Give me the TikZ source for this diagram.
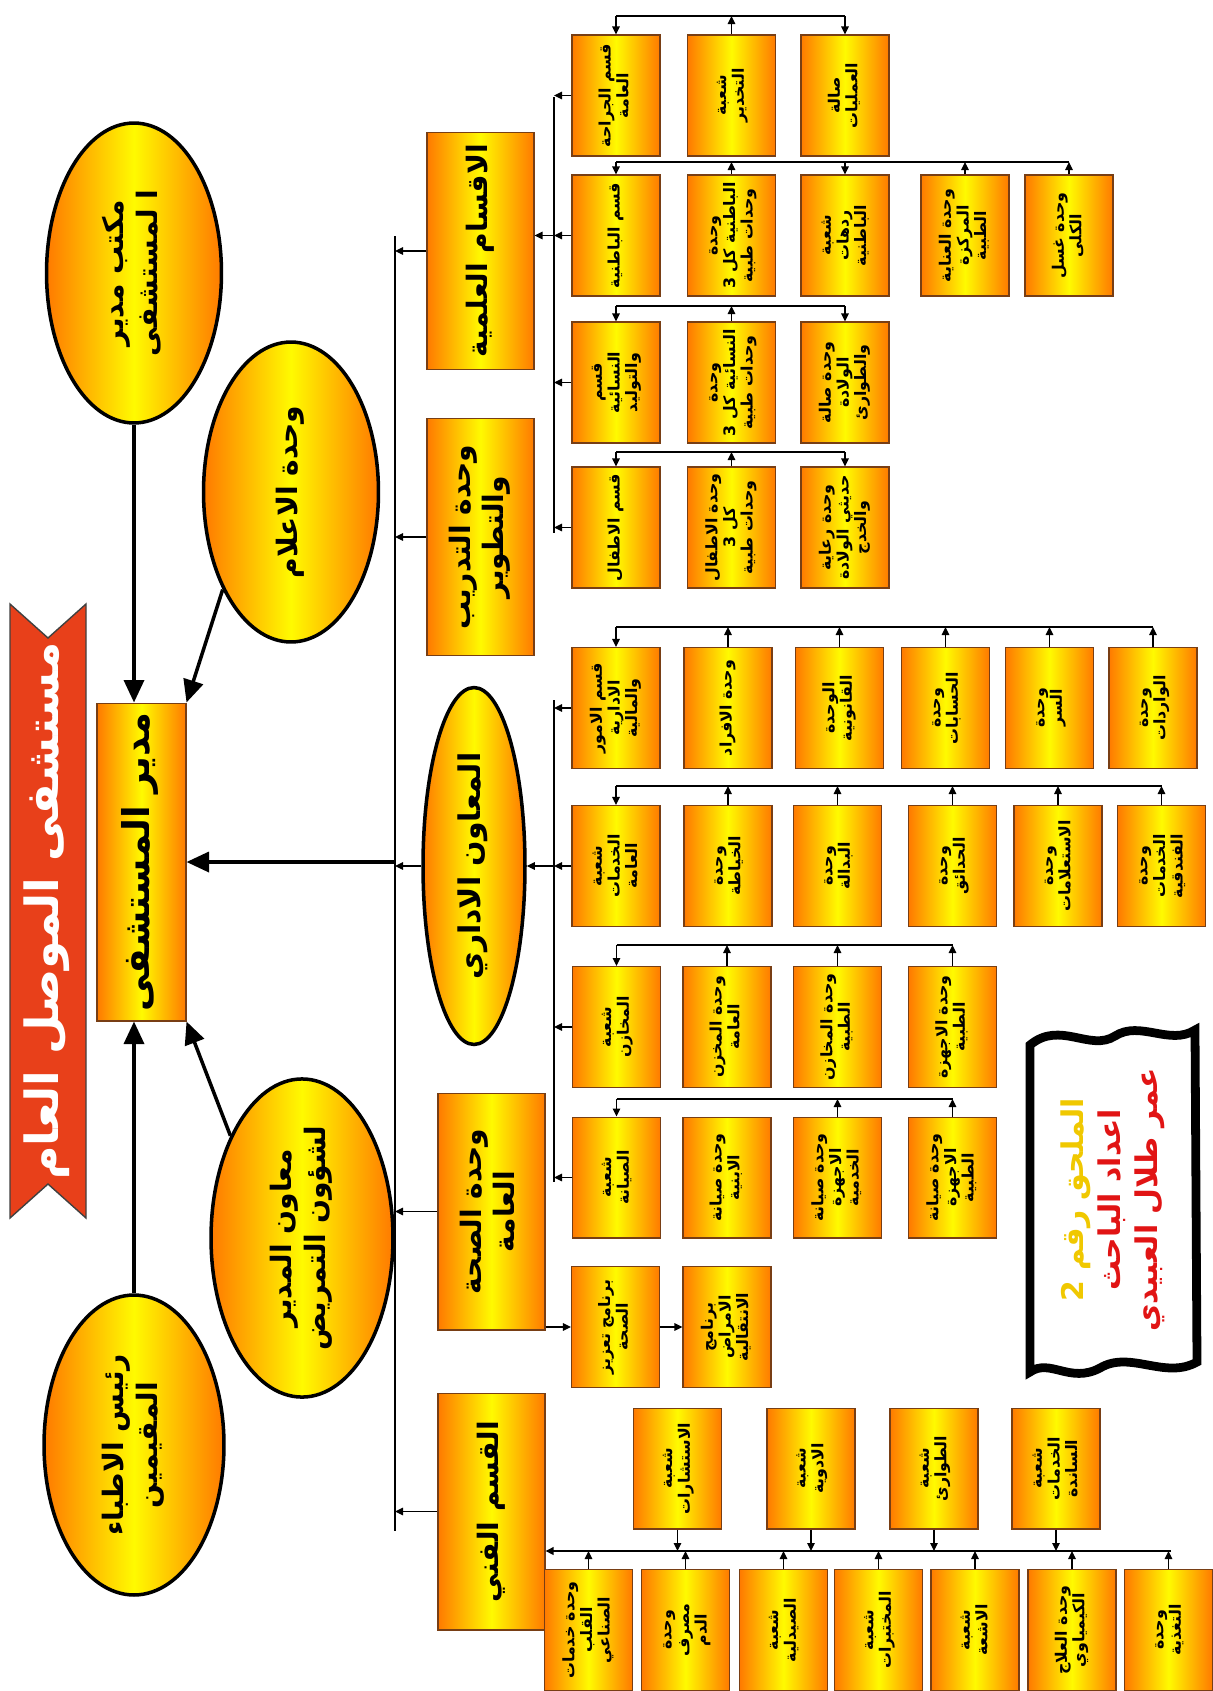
\documentclass[tikz,border=0pt]{standalone}
\usepackage{fontspec}
\usepackage{graphicx}
\usepackage{array}
\usetikzlibrary{arrows.meta}
\usetikzlibrary{shapes.geometric}
\usetikzlibrary{positioning}
\newfontfamily\arabicfont[Script=Arabic]{DejaVu Sans}
\TeXXeTstate=1
\newcolumntype{R}{>{\beginR}c<{\endR}}
\newcommand{\vlabel}[1]{\rotatebox{90}{\arabicfont\bfseries\renewcommand{\arraystretch}{0.95}\begin{tabular}{@{}R@{}}#1\end{tabular}}}
\definecolor{boxorange}{RGB}{255,122,0}
\definecolor{boxyellow}{RGB}{255,250,0}
\definecolor{boxline}{RGB}{120,62,20}
\definecolor{ribbon}{RGB}{232,64,26}
\definecolor{notered}{RGB}{225,20,20}
\definecolor{noteyellow}{RGB}{240,200,0}

\begin{document}
\begin{tikzpicture}[
    x=0.02cm, y=-0.02cm,
    unit/.style={draw=boxline, line width=0.6pt, left color=boxorange, right color=boxorange, middle color=boxyellow,
                 minimum width=1.76cm, minimum height=2.42cm, inner sep=1pt, font=\fontsize{9}{10.5}\selectfont},
    dept/.style={unit, minimum width=2.14cm, minimum height=4.74cm, font=\fontsize{16}{20}\selectfont},
    head/.style={ellipse, draw=black, line width=2pt, left color=boxorange, right color=boxorange, middle color=boxyellow,
                 inner sep=0pt, font=\fontsize{16}{20}\selectfont},
    link/.style={-{Triangle[length=1.6mm, width=1.5mm]}, line width=0.7pt},
    bigarrow/.style={-{Triangle[length=4.5mm, width=4mm]}, line width=2pt},
    bus/.style={line width=1.4pt}
]
\useasboundingbox (0,0) rectangle (1213,1691);

% --- Title ribbon ---
\filldraw[fill=ribbon, draw=black!75, line width=0.8pt] (10,604) -- (48,638) -- (86,604) -- (86,1218) -- (48,1184) -- (10,1218) -- cycle;
\node[text=white, font=\fontsize{26}{30}\selectfont] (title) at (48,911) {\vlabel{مستشفى الموصل العام}};

% --- Director and the offices around him ---
\node[unit, minimum width=1.78cm, minimum height=6.36cm, font=\fontsize{21}{25}\selectfont] (mgr) at (141.5,862) {\vlabel{مدير  المستشفى}};
\node[head, minimum width=3.5cm, minimum height=6cm] (office) at (134,273) {\vlabel{مكتب مدير\\ا لمستشفى}};
\node[head, minimum width=3.5cm, minimum height=6cm] (media) at (291,492) {\vlabel{وحدة الاعلام}};
\node[head, minimum width=3.64cm, minimum height=6cm] (nursing) at (302,1238) {\vlabel{معاون المدير\\لشؤون التمريض}};
\node[head, minimum width=3.6cm, minimum height=6cm] (resid) at (134,1445) {\vlabel{رئيس الاطباء\\المقيمين}};

\draw[bigarrow] (office.south) -- (office.south |- mgr.north);
\draw[bigarrow] (media.235) -- (mgr.north east);
\draw[bigarrow] (nursing.125) -- (mgr.south east);
\draw[bigarrow] (resid.north) -- (resid.north |- mgr.south);

% --- Main bus and departments ---
\coordinate (busTop) at (395,236);
\coordinate (busBot) at (395,1531);
\draw[bus] (busTop) -- (busBot);

\node[dept] (sci) at (480.5,251) {\vlabel{الاقسام العلمية}};
\node[dept] (train) at (480.5,537) {\vlabel{وحدة التدريب\\والتطوير}};
\node[head, minimum width=2.04cm, minimum height=7.14cm, font=\fontsize{17}{20}\selectfont] (admin) at (474,866) {\vlabel{المعاون الاداري}};
\node[dept] (health) at (491.5,1211.5) {\vlabel{وحدة الصحة\\العامة}};
\node[dept] (tech) at (491.5,1511.5) {\vlabel{القسم الفني}};

\foreach \d in {sci,train,admin,health,tech}
{
    \draw[link] (\d.west) -- (\d.west -| busTop);
}
\draw[bigarrow] (busTop |- mgr.east) -- (mgr.east);

% --- Scientific departments ---
\foreach \c/\x/\t in {1/616/{قسم الجراحة\\العامة}, 2/731.5/{شعبة\\التخدير}, 3/845/{صالة\\العمليات}}
    \node[unit] (r1c\c) at (\x,95.5) {\vlabel{\t}};
\foreach \c/\x/\t in {1/616/{قسم الباطنية}, 2/731.5/{وحدة\\الباطنية كل 3\\وحدات طبية}, 3/845/{شعبة\\ردهات\\الباطنية},
                      4/965/{وحدة العناية\\المركزة\\الطبية}, 5/1069/{وحدة غسل\\الكلى}}
    \node[unit] (r2c\c) at (\x,235.5) {\vlabel{\t}};
\foreach \c/\x/\t in {1/616/{قسم\\النسائية\\والتوليد}, 2/731.5/{وحدة\\النسائية كل 3\\وحدات طبية}, 3/845/{وحدة صالة\\الولادة\\والطوارئ}}
    \node[unit] (r3c\c) at (\x,382.5) {\vlabel{\t}};
\foreach \c/\x/\t in {1/616/{قسم الاطفال}, 2/731.5/{وحدة الاطفال\\كل 3\\وحدات طبية}, 3/845/{وحدة رعاية\\حديثي الولادة\\والخدج}}
    \node[unit] (r4c\c) at (\x,527.5) {\vlabel{\t}};

% --- Administrative units ---
\foreach \c/\x/\t in {1/616/{قسم الامور\\الادارية\\والمالية}, 2/728/{وحدة الافراد}, 3/839.5/{الوحدة\\القانونية},
                      4/945.5/{وحدة\\الحسابات}, 5/1049.5/{وحدة\\السر}, 6/1153/{وحدة\\الواردات}}
    \node[unit] (r5c\c) at (\x,708) {\vlabel{\t}};
\foreach \c/\x/\t in {1/616/{شعبة\\الخدمات\\العامة}, 2/728/{وحدة\\الخياطة}, 3/837.5/{وحدة\\البدالة},
                      4/952.5/{وحدة\\الحدائق}, 5/1058/{وحدة\\الاستعلامات}, 6/1161.5/{وحدة\\الخدمات\\الفندقية}}
    \node[unit] (r6c\c) at (\x,866) {\vlabel{\t}};
\foreach \c/\x/\t in {1/616.5/{شعبة\\المخازن}, 2/727/{وحدة المخزن\\العامة}, 3/837.5/{وحدة المخازن\\الطبية}, 4/952.5/{وحدة الاجهزة\\الطبية}}
    \node[unit] (r7c\c) at (\x,1027) {\vlabel{\t}};
\foreach \c/\x/\t in {1/616.5/{شعبة\\الصيانة}, 2/727/{وحدة صيانة\\الابنية}, 3/837.5/{وحدة صيانة\\الاجهزة\\الخدمية}, 4/952.5/{وحدة صيانة\\الاجهزة\\الطبية}}
    \node[unit] (r8c\c) at (\x,1177.5) {\vlabel{\t}};

% --- Public health programmes ---
\node[unit] (r9c1) at (615.5,1327) {\vlabel{برنامج تعزيز\\الصحة}};
\node[unit] (r9c2) at (727,1327) {\vlabel{برنامج\\الامراض\\الانتقالية}};

% --- Technical units ---
\foreach \c/\x/\t in {1/677.5/{شعبة\\الاستشارات}, 2/811/{شعبة\\الادوية}, 3/934/{شعبة\\الطوارئ}, 4/1056/{شعبة\\الخدمات\\الساندة}}
    \node[unit] (r10c\c) at (\x,1468.5) {\vlabel{\t}};
\foreach \c/\x/\t in {1/588.5/{وحدة خدمات\\القلب\\الصناعي}, 2/685.5/{وحدة\\مصرف\\الدم}, 3/783.5/{شعبة\\الصيدلية}, 4/878.5/{شعبة\\المختبرات},
                      5/975/{شعبة\\الاشعة}, 6/1072/{وحدة العلاج\\الكيمياوي}, 7/1168.5/{وحدة\\التغذية}}
    \node[unit] (r11c\c) at (\x,1630) {\vlabel{\t}};

% --- Brackets over the rows ---
\foreach \r/\y/\last in {1/16/3, 2/162/5, 3/306/3, 4/452/3, 5/627/6, 6/786/6, 7/945/4, 8/1099/4}
{
    \coordinate (k\r) at (0,\y);
    \draw[bus] (r\r c1.north |- k\r) -- (r\r c\last.north |- k\r);
    \draw[link] (r\r c1.north |- k\r) -- (r\r c1.north);
}
\foreach \r/\c in {1/3, 2/3, 3/3, 4/3}
    \draw[link] (r\r c\c.north |- k\r) -- (r\r c\c.north);
\foreach \r/\c in {1/2, 2/2, 2/4, 2/5, 3/2, 4/2, 5/2, 5/3, 5/4, 5/5, 5/6, 6/2, 6/3, 6/4, 6/5, 6/6, 7/2, 7/3, 7/4, 8/3, 8/4}
    \draw[link] (r\r c\c.north) -- (r\r c\c.north |- k\r);

% --- Side buses ---
\coordinate (sciTop) at (554,97);
\coordinate (sciBot) at (554,533);
\draw[bus] (sciTop) -- (sciBot);
\foreach \r in {1,2,3,4}
    \draw[link] (r\r c1.west) -- (r\r c1.west -| sciTop);
\draw[link] (r2c1.west -| sciTop) -- (r2c1.west -| sci.east);

\coordinate (admTop) at (554,700);
\coordinate (admBot) at (554,1182);
\draw[bus] (admTop) -- (admBot);
\foreach \r in {5,6,7,8}
    \draw[link] (r\r c1.west) -- (r\r c1.west -| admTop);
\draw[link] (r6c1.west -| admTop) -- (admin.east);

\draw[link] (health.east |- r9c1.west) -- (r9c1.west);
\draw[link] (r9c1.east) -- (r9c2.west);

\coordinate (techEnd) at (1171,1551);
\draw[link, line width=1.4pt] (techEnd) -- (tech.east |- techEnd);
\foreach \c in {1,2,3,4}
    \draw[link] (r10c\c.south) -- (r10c\c.south |- techEnd);
\foreach \c in {1,...,7}
    \draw[link] (r11c\c.north) -- (r11c\c.north |- techEnd);

% --- Note ---
\filldraw[fill=white, draw=black, line width=5pt] (1030,1045) .. controls (1060,1020) and (1090,1052) .. (1115,1036)
    .. controls (1140,1020) and (1170,1046) .. (1195,1030) -- (1197,1362)
    .. controls (1165,1380) and (1130,1350) .. (1100,1368) .. controls (1070,1384) and (1050,1358) .. (1030,1372) -- cycle;
\node[font=\fontsize{17}{21}\selectfont] (note) at (1113,1200) {\rotatebox{90}{\arabicfont\bfseries\begin{tabular}{@{}c@{}}
    \color{noteyellow}\beginR الملحق رقم 2\endR\\
    \color{notered}\beginR اعداد الباحث\endR\\
    \color{notered}\beginR عمر طلال العبيدي\endR
\end{tabular}}};

\end{tikzpicture}
\end{document}
